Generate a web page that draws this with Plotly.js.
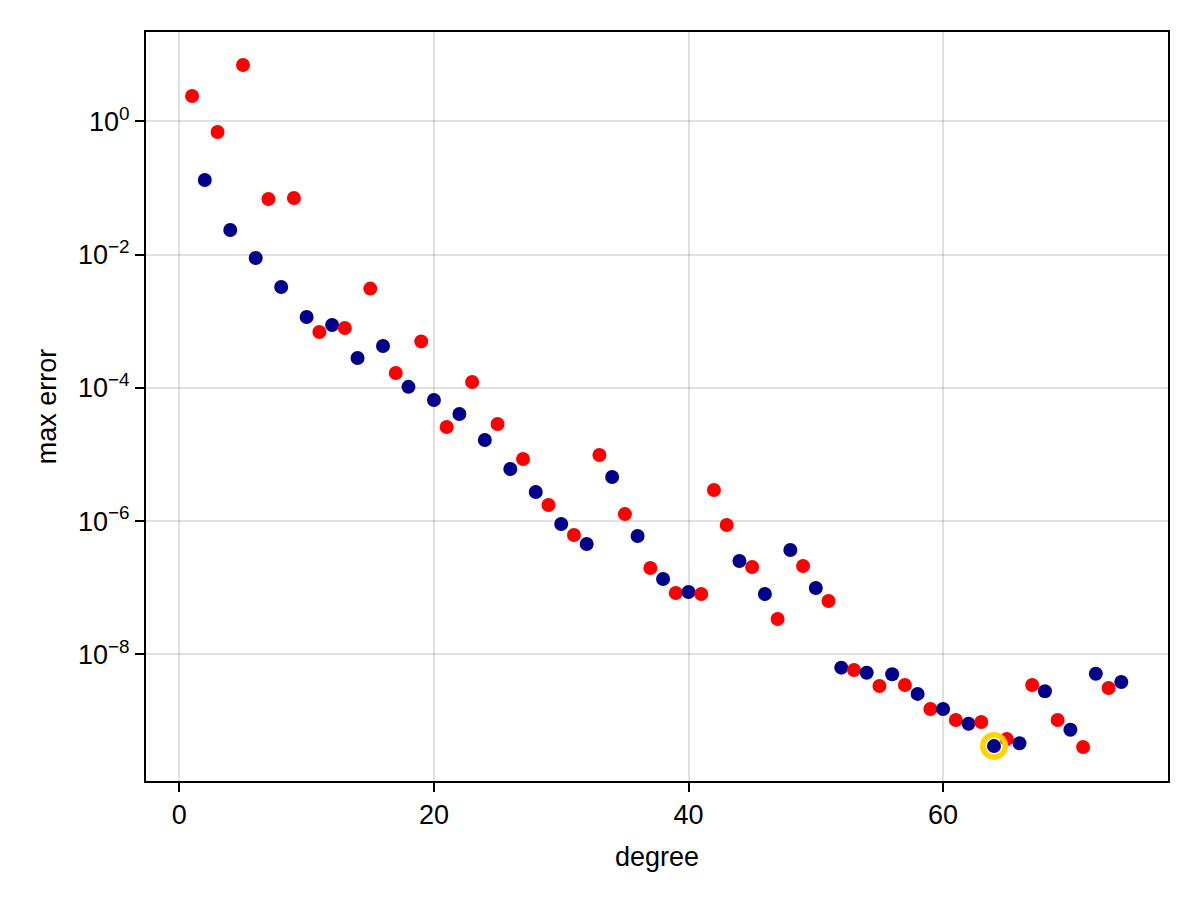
<!DOCTYPE html>
<html>
<head>
<meta charset="utf-8">
<script src="https://cdn.plot.ly/plotly-3.0.1.min.js"></script>
<style>html,body{margin:0;padding:0;background:#fff;}#chart{width:1200px;height:900px;}</style>
</head>
<body>
<div id="chart"></div>
<script>
// Data
const degrees = [
  1, 2, 3, 4, 5, 6, 7, 8, 9, 10,
  11, 12, 13, 14, 15, 16, 17, 18, 19, 20,
  21, 22, 23, 24, 25, 26, 27, 28, 29, 30,
  31, 32, 33, 34, 35, 36, 37, 38, 39, 40,
  41, 42, 43, 44, 45, 46, 47, 48, 49, 50,
  51, 52, 53, 54, 55, 56, 57, 58, 59, 60,
  61, 62, 63, 64, 65, 66, 67, 68, 69, 70,
  71, 72, 73, 74
];
const maxError = [
  2.41, 0.132, 0.695, 0.0235, 7.05, 8.93e-3, 0.0687, 3.28e-3, 0.0711, 1.16e-3,
  6.93e-4, 8.83e-4, 7.96e-4, 2.82e-4, 3.10e-3, 4.27e-4, 1.68e-4, 1.04e-4, 5.0e-4, 6.61e-5,
  2.59e-5, 4.07e-5, 1.23e-4, 1.66e-5, 2.88e-5, 6.08e-6, 8.59e-6, 2.75e-6, 1.75e-6, 9.1e-7,
  6.21e-7, 4.56e-7, 9.86e-6, 4.61e-6, 1.28e-6, 6.01e-7, 1.99e-7, 1.36e-7, 8.38e-8, 8.67e-8,
  8.09e-8, 2.94e-6, 8.79e-7, 2.53e-7, 2.06e-7, 8.09e-8, 3.41e-8, 3.7e-7, 2.13e-7, 9.95e-8,
  6.35e-8, 6.34e-9, 5.85e-9, 5.33e-9, 3.37e-9, 5.04e-9, 3.48e-9, 2.56e-9, 1.52e-9, 1.52e-9,
  1.04e-9, 9.14e-10, 9.7e-10, 4.24e-10, 5.4e-10, 4.65e-10, 3.48e-9, 2.81e-9, 1.04e-9, 7.43e-10,
  4.09e-10, 5.15e-9, 3.14e-9, 3.86e-9
];
// group of each point: "A" (red) or "B" (navy)
const group = [
  "A","B","A","B","A","B","A","B","A","B",
  "A","B","A","B","A","B","A","B","A","B",
  "A","B","A","B","A","B","A","B","A","B",
  "A","B","A","B","A","B","A","B","A","B",
  "A","A","A","B","A","B","A","B","A","B",
  "A","B","A","B","A","B","A","B","A","B",
  "A","B","A","B","A","B","A","B","A","B",
  "A","B","A","B"
];
const highlightDegree = 64;
const yTickValues = [1, 1e-2, 1e-4, 1e-6, 1e-8];
const yTickLabels = ["10<sup>0</sup>", "10<sup>−2</sup>", "10<sup>−4</sup>", "10<sup>−6</sup>", "10<sup>−8</sup>"];
const xTickValues = [0, 20, 40, 60];
const xLabel = "degree";
const yLabel = "max error";

const groupColors = {A: "#ff0000", B: "#00008b"};
const hi = degrees.indexOf(highlightDegree);

const FONT = "Liberation Sans, Arial, Helvetica, sans-serif";

const traces = [
  {
    x: degrees,
    y: maxError,
    type: "scatter",
    mode: "markers",
    marker: {size: 14, color: group.map(g => groupColors[g]), line: {width: 0}},
    hoverinfo: "x+y",
    showlegend: false
  },
  {
    x: [degrees[hi]],
    y: [maxError[hi]],
    type: "scatter",
    mode: "markers",
    marker: {symbol: "circle-open", size: 22.5, color: "rgb(255,212,0)", line: {width: 5.5, color: "rgb(255,212,0)"}},
    hoverinfo: "skip",
    showlegend: false
  }
];

const axisCommon = {
  showline: true, mirror: true, linecolor: "#000", linewidth: 2,
  ticks: "outside", ticklen: 9, tickwidth: 2, tickcolor: "#000",
  showgrid: true, gridcolor: "rgba(0,0,0,0.12)", gridwidth: 2,
  zeroline: false,
  tickfont: {family: FONT, size: 27, color: "#000"}
};

const layout = {
  width: 1200, height: 900,
  paper_bgcolor: "#fff", plot_bgcolor: "#fff",
  margin: {l: 146, r: 32, t: 32, b: 119, pad: 0},
  showlegend: false,
  xaxis: Object.assign({}, axisCommon, {
    range: [-2.62, 77.67],
    tickvals: xTickValues,
    ticktext: xTickValues.map(String),
    title: {text: xLabel, font: {family: FONT, size: 27, color: "#000"}, standoff: 18}
  }),
  yaxis: Object.assign({}, axisCommon, {
    type: "log",
    range: [-9.899, 1.343],
    tickvals: yTickValues,
    ticktext: yTickLabels,
    title: {text: yLabel, font: {family: FONT, size: 27, color: "#000"}, standoff: 14}
  })
};

Plotly.newPlot("chart", traces, layout, {displayModeBar: false, staticPlot: true});
</script>
</body>
</html>
